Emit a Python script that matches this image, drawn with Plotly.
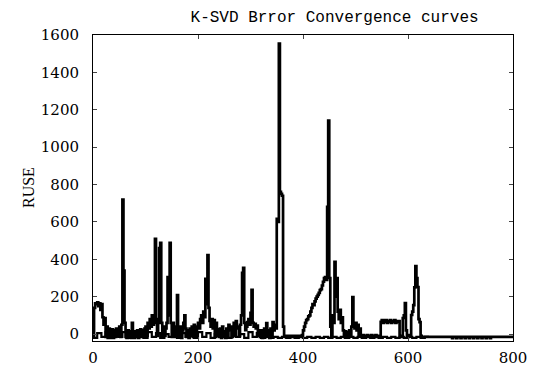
import plotly.graph_objects as go

# Main error curve, sampled every 2 iterations from 0 to 800
main_y = [
    -10, 140, 165, 160, 170, 150, 165, 130, 160, 90,     # 0-18
    50, 86, -15, 40, -20, 30, -20, 15, 25, -20,          # 20-38
    20, -15, 30, -10, 25, 40, -15, 50, 720, 340,         # 40-58
    60, -15, -20, 20, -15, 15, -20, 60, -10, -20,        # 60-78
    15, -15, 20, -20, 10, 25, -15, 20, -10, 30,          # 80-98
    40, -10, 60, 30, 80, 40, 100, 50, 60, 509,           # 100-118
    80, -10, 60, 460, 488, 60, -15, 40, -10, 30,         # 120-138
    60, 305, 100, 488, 60, -15, 60, -15, 40, -10,        # 140-158
    209, 30, -15, 40, -20, 20, 60, 100, 30, -15,         # 160-178
    20, -20, 30, -10, 40, -15, 50, 20, -15, 40,          # 180-198
    60, 30, 80, 100, 60, 120, 90, 295, 160, 423,         # 200-218
    140, 70, 40, 80, 30, 75, -15, 60, -10, 25,           # 220-238
    -15, 30, -20, 40, 15, -10, -20, 30, -10, 50,         # 240-258
    20, 40, -15, 30, 60, -10, 70, 30, 40, -10,           # 260-278
    50, 100, 327, 354, 60, 21, 40, 64, 80, 50,           # 280-298
    113, 236, 60, 40, 55, 30, 45, -10, 20, -15,          # 300-318
    20, -20, 15, 30, -15, 59, -10, 20, -20, 30,          # 320-338
    -10, 64, 20, 50, 30, 616, 600, 1554, 761, 750,       # 340-358
    740, 40, -10, -15, -10, -15, -10, -15, -10, -15,     # 360-378
    -10, -15, -10, -15, -10, -15, -10, -15, -10, -5,     # 380-398
    20, 40, 60, 75, 80, 95, 100, 120, 140, 160,          # 400-418
    155, 175, 190, 200, 210, 220, 235, 240, 260, 280,    # 420-438
    300, 305, 290, 681, 1142, 300, 40, -15, 100, 60,     # 440-458
    386, 200, 300, 120, 80, 130, 60, 90, 20, -15,        # 460-478
    15, -15, 10, -15, 20, -10, 40, 198, 60, 30,          # 480-498
    60, 20, 50, -10, 30, -10, -15, -5, -15, -10,         # 500-518
    -15, -5, -15, -10, -15, -5, -15, -10, -15, -5,       # 520-538
    -15, -10, -15, -10, 65, 75, 60, 75, 65, 75,          # 540-558
    60, 70, 65, 75, 60, 70, 65, 75, 60, 70,              # 560-578
    65, 70, -10, -15, -10, 86, 100, 166, 20, -10,        # 580-598
    -15, -5, -10, 102, 120, 155, 250, 364, 300, 252,     # 600-618
    80, 64, -10, -15, -15, -15, -15, -15, -15, -15,      # 620-638
    -15, -15, -15, -15, -15, -15, -15, -15, -15, -15,    # 640-658
    -15, -15, -15, -15, -15, -15, -15, -15, -15, -15,    # 660-678
    -15, -15, -22, -15, -15, -15, -22, -15, -15, -15,    # 680-698
    -22, -15, -15, -15, -22, -15, -15, -15, -22, -15,    # 700-718
    -15, -15, -22, -15, -15, -15, -22, -15, -15, -15,    # 720-738
    -22, -15, -15, -15, -22, -15, -15, -15, -22, -15,    # 740-758
    -15, -15, -15, -15, -15, -15, -15, -15, -15, -15,    # 760-778
    -15, -15, -15, -15, -15, -15, -15, -15, -15, -15,    # 780-798
    -15,                                                 # 800
]
main_x = list(range(0, 2 * len(main_y), 2))

# Second (baseline) curve, sampled every 8 iterations from 0 to 640
base_y = [
    -20, 5, -15, 10, -20, 0, -15, 10, -20, 5,
    -15, 0, -20, 10, -15, 5, -20, 0, -15, 10,
    -20, 5, -15, 0, -20, 10, -15, 5, -20, 0,
    -15, 10, -20, 5, -15, 0, -20, 10, -15, 5,
    -20, -15, -20, -15, -20, -15, -20, -15, -20, -15,
    -20, -15, -20, -15, -20, -15, -20, -15, -20, -15,
    -20, -15, -20, -15, -20, -15, -20, -15, -20, -15,
    -20, -15, -20, -15, -20, -15, -20, -15, -20, -15,
    -15,
]
base_x = list(range(0, 8 * len(base_y), 8))

y_ticks = [0, 200, 400, 600, 800, 1000, 1200, 1400, 1600]
x_ticks = [0, 200, 400, 600, 800]

fig = go.Figure()
fig.add_trace(go.Scatter(x=base_x, y=base_y, mode="lines",
                         line=dict(color="black", width=2.2, shape="hv"),
                         showlegend=False))
fig.add_trace(go.Scatter(x=main_x, y=main_y, mode="lines",
                         line=dict(color="black", width=2.7, shape="hv"),
                         showlegend=False))

serif = "DejaVu Serif"
tick_font = dict(family=serif, size=15, color="black")
fig.update_layout(
    width=539, height=373,
    font=dict(family=serif, size=15, color="black"),
    margin=dict(l=93, r=26, t=35, b=32, autoexpand=False),
    paper_bgcolor="white", plot_bgcolor="white",
    title=dict(text="K-SVD Brror Convergence curves",
               font=dict(family="Liberation Mono", size=16, color="black"),
               x=310 / 539, xanchor="center", xref="paper",
               y=1 - 16 / 373, yanchor="middle", yref="container"),
    xaxis=dict(range=[0, 800], tickvals=x_ticks, ticks="inside", ticklen=4,
               showline=True, linecolor="black", linewidth=1, mirror="ticks",
               showgrid=False, zeroline=False, tickfont=tick_font,
               automargin=False, ticklabelstandoff=3),
    yaxis=dict(range=[-37, 1600], tickvals=y_ticks, ticks="inside", ticklen=4,
               showline=True, linecolor="black", linewidth=1, mirror="ticks",
               showgrid=False, zeroline=False, tickfont=tick_font,
               automargin=False, ticklabelstandoff=10),
    annotations=[dict(text="RUSE", textangle=-90, xref="paper", yref="paper",
                      x=(28 - 93) / 420, y=0.5, xanchor="center", yanchor="middle",
                      showarrow=False,
                      font=dict(family="Liberation Serif", size=16,
                                color="black"))],
)

fig.write_html("out.html")
